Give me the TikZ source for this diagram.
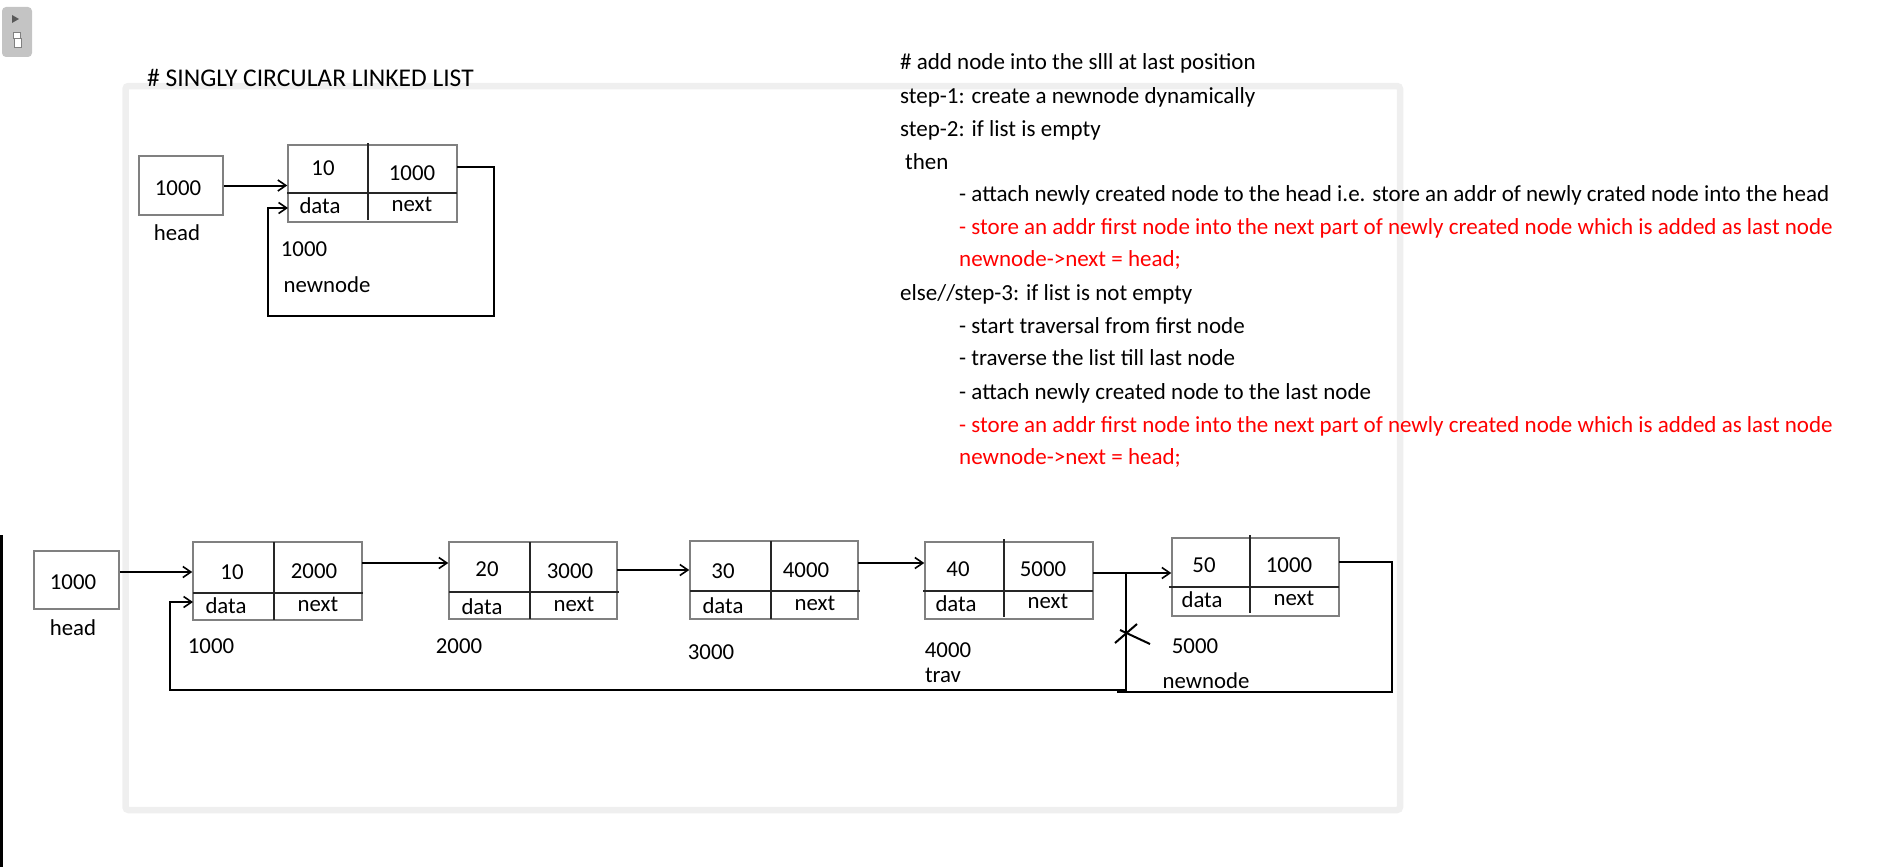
\documentclass[tikz,border=0pt]{standalone}
\usepackage{fontspec}
\setmainfont{Carlito}
\usetikzlibrary{arrows.meta,calc}
\definecolor{framegray}{HTML}{EFEFEF}
\definecolor{boxgray}{HTML}{808080}
\definecolor{widgetgray}{HTML}{C4C4C4}
\begin{document}
\begin{tikzpicture}[x=1pt,y=-1pt,
  box/.style={draw=boxgray,line width=1.5pt,inner sep=0pt},
  lbl/.style={font=\fontsize{22.8}{27}\selectfont,inner sep=0pt},
  steptext/.style={font=\fontsize{23}{27}\selectfont,anchor=base west,inner sep=0pt},
  redtext/.style={steptext,text=red},
  conn/.style={line width=2pt,black},
  arr/.style={conn,-{Straight Barb[length=8pt,width=11pt,line width=1.6pt]}},
  divider/.style={line width=2pt,black!85}]
\useasboundingbox (0,0) rectangle (1892,867);
% screenshot decorations
\draw[framegray,line width=6.5pt,rounded corners=3pt] (125.5,86) rectangle (1400,810);
\fill[widgetgray,rounded corners=4pt] (2,7) rectangle (32,57);
\fill[black!65] (12,15) -- (19,19) -- (12,23) -- cycle;
\draw[black!50,fill=white,line width=0.8pt] (13,32) rectangle (20,38);
\draw[black!50,fill=white,line width=0.8pt] (14,38) rectangle (21,47);
\draw[line width=3pt] (1.5,535) -- (1.5,867);
% title
\node[font=\fontsize{25.5}{30}\selectfont,anchor=base west,inner sep=0pt] (title) at (147,86) {\# SINGLY CIRCULAR LINKED LIST};
% ---------- top diagram ----------
\node[box,minimum width=84pt,minimum height=59pt] (th) at (181,185.5) {};
\node[lbl] (thv) at (178,188) {1000};
\node[lbl] (thl) at (177,233) {head};
\node[box,minimum width=169pt,minimum height=77pt] (t1) at (372.5,183.5) {};
\draw[divider] (368,143) -- (368,220);
\draw[divider] (287,193) -- (457,193);
\node[lbl] (t1d) at (323,168) {10};
\node[lbl] (t1n) at (412,173) {1000};
\node[lbl] (t1a) at (320,206) {data};
\node[lbl] (t1b) at (412,204) {next};
\node[lbl] (t1addr) at (304,249) {1000};
\node[lbl] (t1name) at (327,285) {newnode};
\draw[arr] (th.east) -- (th.east -| t1.west);
\coordinate (t1out) at (457,167);
\coordinate (t1in) at (288,208);
\coordinate (tc1) at (494,316);
\coordinate (tc2) at (268,316);
\draw[arr] (t1out) -| (tc1) -- (tc2) |- (t1in);
% ---------- bottom diagram ----------
\node[box,minimum width=85pt,minimum height=58pt] (bh) at (76.5,580) {};
\node[lbl] (bhv) at (73,582) {1000};
\node[lbl] (bhl) at (73,628) {head};
% node 1
\node[box,minimum width=169pt,minimum height=78pt] (n1) at (277.5,581) {};
\draw[divider] (274,542) -- (274,620);
\draw[divider] (193,593) -- (363,593);
\node[lbl] (n1d) at (232,572) {10};
\node[lbl] (n1n) at (314,571) {2000};
\node[lbl] (n1a) at (226,606) {data};
\node[lbl] (n1b) at (318,604) {next};
\node[lbl] (n1addr) at (211,646) {1000};
% node 2
\node[box,minimum width=168pt,minimum height=77pt] (n2) at (533,580.5) {};
\draw[divider] (530,542) -- (530,619);
\draw[divider] (449,592) -- (619,592);
\node[lbl] (n2d) at (487,569) {20};
\node[lbl] (n2n) at (570,571) {3000};
\node[lbl] (n2a) at (482,607) {data};
\node[lbl] (n2b) at (574,604) {next};
\node[lbl] (n2addr) at (459,646) {2000};
% node 3
\node[box,minimum width=168pt,minimum height=78pt] (n3) at (774,580) {};
\draw[divider] (771,541) -- (771,619);
\draw[divider] (690,591) -- (860,591);
\node[lbl] (n3d) at (723,571) {30};
\node[lbl] (n3n) at (806,570) {4000};
\node[lbl] (n3a) at (723,606) {data};
\node[lbl] (n3b) at (815,603) {next};
\node[lbl] (n3addr) at (711,652) {3000};
% node 4
\node[box,minimum width=168pt,minimum height=77pt] (n4) at (1009,580.5) {};
\draw[divider] (1004,539) -- (1004,617);
\draw[divider] (923,591) -- (1093,591);
\node[lbl] (n4d) at (958,569) {40};
\node[lbl] (n4n) at (1043,569) {5000};
\node[lbl] (n4a) at (956,604) {data};
\node[lbl] (n4b) at (1048,601) {next};
\node[lbl] (n4addr) at (948,650) {4000};
\node[lbl] (n4name) at (943,675) {trav};
% node 5
\node[box,minimum width=167pt,minimum height=78pt] (n5) at (1255.5,577) {};
\draw[divider] (1250,535) -- (1250,613);
\draw[divider] (1169,587) -- (1339,587);
\node[lbl] (n5d) at (1204,565) {50};
\node[lbl] (n5n) at (1289,565) {1000};
\node[lbl] (n5a) at (1202,600) {data};
\node[lbl] (n5b) at (1294,598) {next};
\node[lbl] (n5addr) at (1195,646) {5000};
\node[lbl] (n5name) at (1206,681) {newnode};
% links
\coordinate (p01) at (119,572);
\draw[arr] (bh.east |- p01) -- (p01 -| n1.west);
\coordinate (p12) at (362,563);
\draw[arr] (p12) -- (p12 -| n2.west);
\coordinate (p23) at (617,570);
\draw[arr] (p23) -- (p23 -| n3.west);
\coordinate (p34) at (858,563);
\draw[arr] (p34) -- (p34 -| n4.west);
\coordinate (p45) at (1093,573);
\draw[arr] (p45) -- (p45 -| n5.west);
% old back link (cut)
\coordinate (j) at (1126,573);
\coordinate (bc1) at (170,690);
\coordinate (n1in) at (193,602);
\draw[arr] (j) |- (bc1) |- (n1in);
\draw[conn] (1115,643) -- (1137,624);
\draw[conn] (1120,630) -- (1150,644);
% new back link
\coordinate (n5out) at (1339,562);
\coordinate (bc3) at (1392,692);
\coordinate (bc4) at (1117,692);
\draw[conn] (n5out) -| (bc3) -- (bc4);
% ---------- algorithm text ----------
\node[steptext] (s0) at (900,70) {\# add node into the slll at last position};
\node[steptext] (s1) at (900,103) {step-1: create a newnode dynamically};
\node[steptext] (s2) at (900,136) {step-2: if list is empty};
\node[steptext] (s3) at (905,169) {then};
\node[steptext] (s4) at (959,201) {- attach newly created node to the head i.e. store an addr of newly crated node into the head};
\node[redtext] (s5) at (959,234) {- store an addr first node into the next part of newly created node which is added as last node};
\node[redtext] (s6) at (959,266) {newnode->next = head;};
\node[steptext] (s7) at (900,300) {else//step-3: if list is not empty};
\node[steptext] (s8) at (959,333) {- start traversal from first node};
\node[steptext] (s9) at (959,365) {- traverse the list till last node};
\node[steptext] (s10) at (959,399) {- attach newly created node to the last node};
\node[redtext] (s11) at (959,432) {- store an addr first node into the next part of newly created node which is added as last node};
\node[redtext] (s12) at (959,464) {newnode->next = head;};
\end{tikzpicture}
\end{document}
